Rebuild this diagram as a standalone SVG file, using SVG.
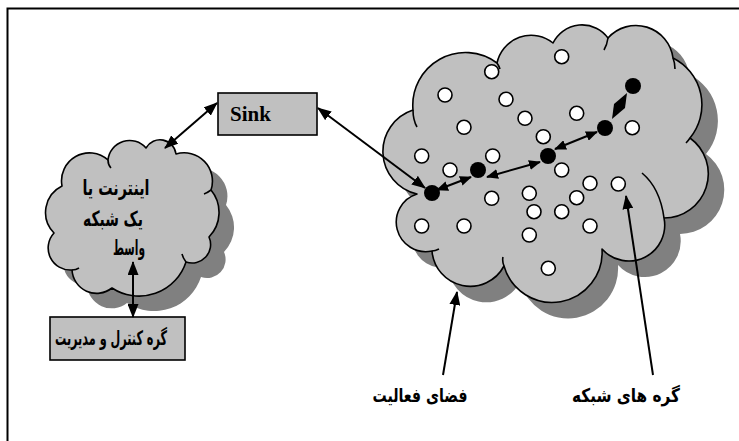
<svg xmlns="http://www.w3.org/2000/svg" xmlns:xlink="http://www.w3.org/1999/xlink" width="739" height="441" viewBox="0 0 739 441">
<style>
.cloud{fill:#c0c0c0;stroke:#000;stroke-width:1.6;stroke-linejoin:round}
.shadow{fill:#808080;stroke:none}
.tail{fill:none;stroke:#000;stroke-width:1.6}
.box{fill:#c0c0c0;stroke:#000;stroke-width:1.6}
.wn{fill:#fff;stroke:#000;stroke-width:1.6}
.bn{fill:#000}
.con{stroke:#000;stroke-width:2;fill:none}
.fa{font-family:"DejaVu Sans",sans-serif;font-weight:bold;fill:#000;text-anchor:middle}
.en{font-family:"Liberation Serif",serif;font-weight:bold;font-size:21px;fill:#000}
.frame{stroke:#000;stroke-width:2;fill:none}
</style>
<defs>
<marker id="ah" markerUnits="userSpaceOnUse" markerWidth="14" markerHeight="11" viewBox="0 0 14 11" refX="13" refY="5.5" orient="auto-start-reverse"><path d="M0,0 L14,5.5 L0,11 z" fill="#000"/></marker>
<marker id="ahs" markerUnits="userSpaceOnUse" markerWidth="12" markerHeight="10" viewBox="0 0 12 10" refX="11" refY="5" orient="auto-start-reverse"><path d="M0,0 L12,5 L0,10 z" fill="#000"/></marker>
<path id="bigc" d="M413,110 A52.7,52.7 0 0 1 497,63 A34.9,34.9 0 0 1 553,43 A32.3,32.3 0 0 1 608,38 A37.4,37.4 0 0 1 673,58 A52.3,52.3 0 0 1 690,138 A44.2,44.2 0 0 1 664,218 A35.9,35.9 0 0 1 602,249 A50,50 0 0 1 504,266 A38.3,38.3 0 0 1 432,251 A29.5,29.5 0 0 1 417,194 A43.6,43.6 0 0 1 413,110 Z"/>
<path id="smallc" d="M62,186 A27.9,27.9 0 0 1 108,160 A21.7,21.7 0 0 1 146,148 A16.1,16.1 0 0 1 176,154 A28.3,28.3 0 0 1 211,190 A35.2,35.2 0 0 1 209,237 A18.5,18.5 0 0 1 186,262 A49.3,49.3 0 0 1 112,288 A24.7,24.7 0 0 1 72,270 A22.1,22.1 0 0 1 54,233 A29.4,29.4 0 0 1 62,186 Z"/>
</defs>
<rect width="739" height="441" fill="#fff"/>
<path class="frame" d="M7.5,441 V8.5 H739"/>

<g id="field-cloud">
<use xlink:href="#bigc" class="shadow" transform="translate(16,16)"/>
<use xlink:href="#bigc" class="cloud"/>
<path class="tail" d="M413,110 Q413,120 417,127 M497,63 Q499,66 500,69 M608,38 Q607,45 604,50 M673,58 Q675,63 675,69 M690,138 Q688,141 686,143 M642,173 Q660,188 664,218 M504,266 Q502,261 503,257 M432,251 Q435,251 439,249"/>
</g>

<g id="internet-cloud">
<use xlink:href="#smallc" class="shadow" transform="translate(15,15)"/>
<use xlink:href="#smallc" class="cloud"/>
<path class="tail" d="M108,160 Q108,165 111,168 M211,190 Q207,193 204,194 M186,262 Q183,258 182,254 M72,270 Q76,270 79,268"/>
<text class="fa" x="116" y="195" font-size="21" textLength="67" lengthAdjust="spacingAndGlyphs">اینترنت یا</text>
<text class="fa" x="113" y="226" font-size="21" textLength="60" lengthAdjust="spacingAndGlyphs">یک شبکه</text>
<text class="fa" x="129" y="255" font-size="21" textLength="32" lengthAdjust="spacingAndGlyphs">واسط</text>
</g>

<g id="sink">
<rect class="box" x="218" y="93" width="99" height="42"/>
<text class="en" x="230" y="121">Sink</text>
</g>

<g id="control-node">
<rect class="box" x="50" y="317" width="135" height="43"/>
<text class="fa" x="111" y="345" font-size="20" textLength="112" lengthAdjust="spacingAndGlyphs">گره کنترل و مدیریت</text>
</g>

<g id="white-nodes">
<circle class="wn" cx="561.7" cy="56.7" r="7"/>
<circle class="wn" cx="491.7" cy="71.7" r="7"/>
<circle class="wn" cx="445" cy="95" r="7"/>
<circle class="wn" cx="506" cy="99.3" r="7"/>
<circle class="wn" cx="576.7" cy="113.3" r="7"/>
<circle class="wn" cx="525" cy="118.3" r="7"/>
<circle class="wn" cx="464" cy="127.3" r="7"/>
<circle class="wn" cx="632.3" cy="127.7" r="7"/>
<circle class="wn" cx="543.3" cy="136.7" r="7"/>
<circle class="wn" cx="421.7" cy="156" r="7"/>
<circle class="wn" cx="492.7" cy="156" r="7"/>
<circle class="wn" cx="450" cy="170" r="7"/>
<circle class="wn" cx="561.7" cy="170" r="7"/>
<circle class="wn" cx="590" cy="183.3" r="7"/>
<circle class="wn" cx="618.3" cy="184" r="7"/>
<circle class="wn" cx="491.7" cy="198.3" r="7"/>
<circle class="wn" cx="529.3" cy="193.3" r="7"/>
<circle class="wn" cx="576.7" cy="197.7" r="7"/>
<circle class="wn" cx="534" cy="211.7" r="7"/>
<circle class="wn" cx="561.7" cy="211.7" r="7"/>
<circle class="wn" cx="421.7" cy="226" r="7"/>
<circle class="wn" cx="464" cy="226" r="7"/>
<circle class="wn" cx="590" cy="226" r="7"/>
<circle class="wn" cx="529.3" cy="235" r="7"/>
<circle class="wn" cx="548.3" cy="268.3" r="7"/>
</g>

<g id="path-nodes">
<circle class="bn" cx="432" cy="193" r="8"/>
<circle class="bn" cx="478" cy="170" r="8"/>
<circle class="bn" cx="548" cy="156" r="8"/>
<circle class="bn" cx="605" cy="128" r="8"/>
<circle class="bn" cx="633" cy="86" r="8"/>
</g>

<g id="connectors">
<line class="con" x1="165" y1="148" x2="217" y2="103" marker-start="url(#ah)" marker-end="url(#ah)"/>
<line class="con" x1="318" y1="108" x2="425" y2="188" marker-start="url(#ah)" marker-end="url(#ah)"/>
<line class="con" x1="133" y1="262" x2="133" y2="317" marker-start="url(#ah)" marker-end="url(#ah)"/>
<line class="con" x1="437" y1="190" x2="471" y2="177" marker-start="url(#ahs)" marker-end="url(#ahs)"/>
<line class="con" x1="487" y1="177" x2="540" y2="162" marker-start="url(#ahs)" marker-end="url(#ahs)"/>
<line class="con" x1="555" y1="149" x2="597" y2="132" marker-start="url(#ahs)" marker-end="url(#ahs)"/>
<polygon points="612,119 614,104 627,93 625,108" fill="#000"/>
<line class="con" x1="443" y1="375" x2="457" y2="292" marker-end="url(#ah)"/>
<line class="con" x1="653" y1="375" x2="626" y2="196" marker-end="url(#ah)"/>
</g>

<g id="labels">
<text class="fa" x="420" y="402" font-size="19" textLength="95" lengthAdjust="spacingAndGlyphs">فضای فعالیت</text>
<text class="fa" x="626" y="402" font-size="19" textLength="108" lengthAdjust="spacingAndGlyphs">گره های شبکه</text>
</g>
</svg>
